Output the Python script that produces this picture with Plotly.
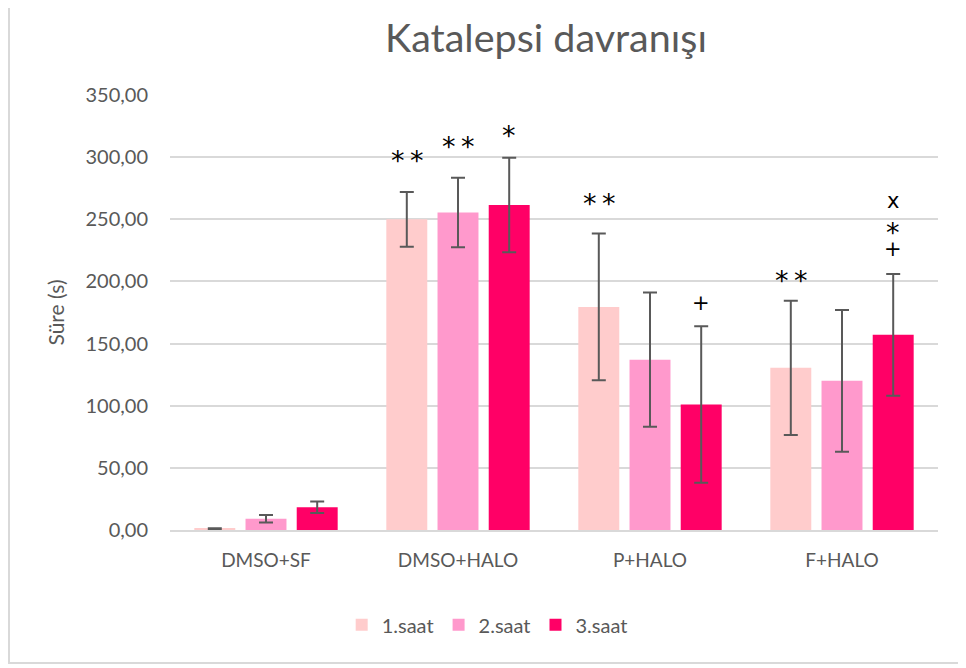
import plotly.graph_objects as go

categories = ["DMSO+SF", "DMSO+HALO", "P+HALO", "F+HALO"]
series_names = ["1.saat", "2.saat", "3.saat"]
values_1 = [1.0, 250.0, 179.5, 130.5]
values_2 = [9.0, 255.5, 137.0, 120.0]
values_3 = [18.3, 261.5, 101.0, 157.0]
errors_1 = [0.5, 22.0, 59.0, 54.0]
errors_2 = [3.0, 28.0, 54.0, 57.0]
errors_3 = [4.6, 38.0, 63.0, 49.0]
colors = ["#FFCCCC", "#FF99CC", "#FF0066"]
y_ticks = [0, 50, 100, 150, 200, 250, 300, 350]
y_tick_labels = ["0,00", "50,00", "100,00", "150,00", "200,00", "250,00", "300,00", "350,00"]

STAR2 = "*\u2009*"
STAR_PLUS = ("<span style='font-size:27px'>*</span><br>"
             "<span style='font-size:21px'>+</span>")
# significance marks: (category, series index, y value, text, base font size, yshift)
marks = [
    ("DMSO+HALO", 0, 300.3, STAR2, 27, -3.5),
    ("DMSO+HALO", 1, 311.0, STAR2, 27, -3.5),
    ("DMSO+HALO", 2, 320.4, "*", 27, -3.5),
    ("P+HALO", 0, 265.5, STAR2, 27, -3.5),
    ("P+HALO", 2, 182.6, "+", 21, 0),
    ("F+HALO", 0, 203.8, STAR2, 27, -3.5),
    ("F+HALO", 2, 265.0, "x", 21, 0),
    ("F+HALO", 2, 234.4, STAR_PLUS, 10.4, 0),
]

FONT = "Lato, 'Noto Sans', sans-serif"
MARK_FONT = "'DejaVu Sans', sans-serif"
GREY = "#595959"

fig = go.Figure()
for name, vals, errs, col in zip(series_names, [values_1, values_2, values_3],
                                 [errors_1, errors_2, errors_3], colors):
    fig.add_trace(go.Bar(
        x=categories, y=vals, name=name, marker_color=col, marker_line_width=0,
        error_y=dict(type="data", array=errs, visible=True, color=GREY,
                     thickness=2, width=7),
    ))

bar_offsets = [-51, 0, 51]
for cat, si, yv, txt, fs, ys in marks:
    fig.add_annotation(x=cat, y=yv, text=txt, showarrow=False, xref="x", yref="y",
                       xshift=bar_offsets[si], yanchor="middle", valign="middle",
                       yshift=ys,
                       font=dict(family=MARK_FONT, size=fs, color="#000000"))

# outer chart border (figure is offset 8px by page body margin)
L, T, PW, PH = 162, 87, 768, 435
fig.add_shape(type="rect", xref="paper", yref="paper",
              x0=(1 - L) / PW, x1=(980 - L) / PW,
              y0=(T + PH - 655) / PH, y1=(T + PH + 20) / PH,
              line=dict(color="#D9D9D9", width=2), layer="below")

fig.update_layout(
    width=958, height=660,
    margin=dict(l=L, r=28, t=T, b=138),
    paper_bgcolor="white", plot_bgcolor="white",
    barmode="group", bargap=0.2, bargroupgap=0.2,
    font=dict(family=FONT, size=19, color=GREY),
    title=dict(text="Katalepsi davranışı", x=538 / 958, xanchor="center",
               y=1 - 30 / 660, yanchor="middle",
               font=dict(family=FONT, size=39.5, color=GREY)),
    legend=dict(orientation="h", x=0.413, xanchor="center", y=-0.218, yanchor="middle",
                font=dict(family=FONT, size=20, color=GREY), itemwidth=30),
    xaxis=dict(showgrid=False, showline=True, linecolor="#D9D9D9", linewidth=2,
               tickfont=dict(family=FONT, size=19, color=GREY), ticks="",
               ticklabelstandoff=12, automargin=False),
    yaxis=dict(range=[0, 350], tickvals=y_ticks, ticktext=y_tick_labels,
               showgrid=True, gridcolor="#D9D9D9", gridwidth=1.5, zeroline=False,
               tickfont=dict(family=FONT, size=20, color=GREY), ticks="",
               ticklabelstandoff=21, automargin=False,
               title=dict(text="Süre (s)", font=dict(family=FONT, size=21, color=GREY))),
)

fig.write_html("out.html")
